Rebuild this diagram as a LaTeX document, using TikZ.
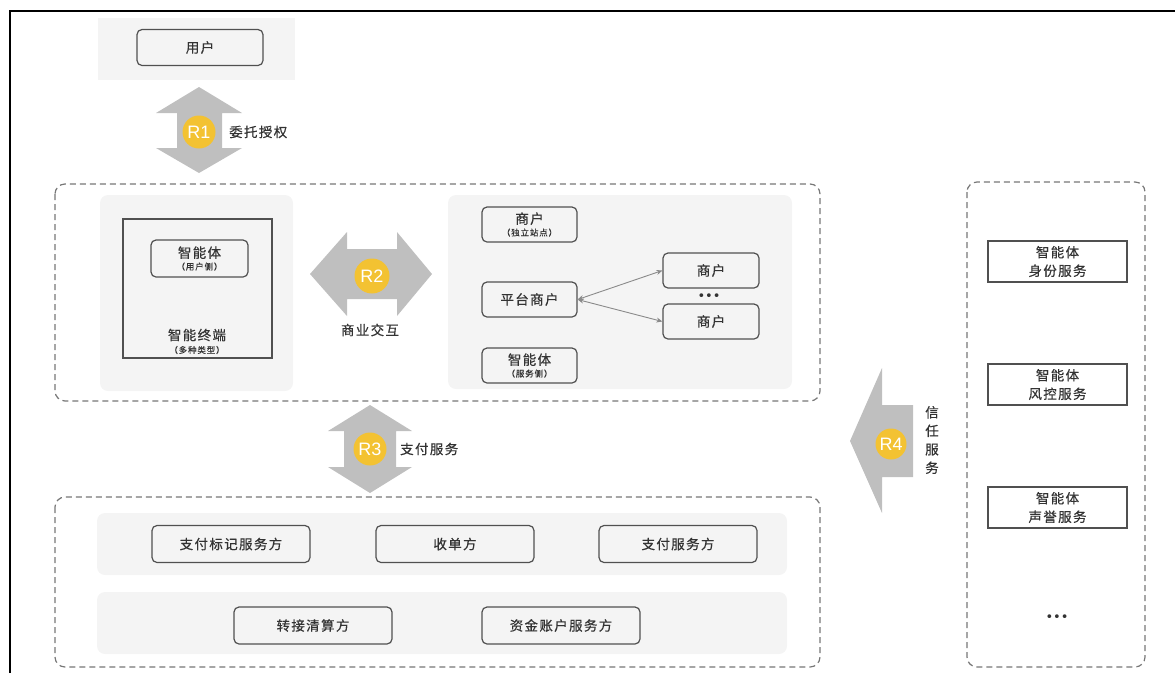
\documentclass[tikz,border=0pt]{standalone}
\usepackage{fontspec}
\setmainfont{Liberation Sans}
\newfontfamily\cjk[LetterSpace=10,FakeBold=0.5]{Noto Sans CJK SC}
\newfontfamily\dotsfont{DejaVu Sans}
\usetikzlibrary{arrows.meta}
\definecolor{panelgray}{HTML}{F4F4F4}
\definecolor{arrowgray}{HTML}{BFBFBF}
\definecolor{ryellow}{HTML}{F3C232}
\definecolor{boxline}{HTML}{505050}
\definecolor{dashgray}{HTML}{777777}
\definecolor{conngray}{HTML}{8A8A8A}
\definecolor{txt}{HTML}{333333}
\tikzset{
  box/.style={draw=boxline, line width=1.2pt, rounded corners=5pt, inner sep=0pt, align=center,
    text=txt, font=\cjk\fontsize{13.5}{15}\selectfont},
  sqbox/.style={draw=boxline, line width=1.3pt, inner sep=0pt, align=center,
    text=txt, font=\cjk\fontsize{13.5}{18.5}\selectfont},
  panelbg/.style={fill=panelgray, rounded corners=8pt},
  dashbox/.style={draw=dashgray, line width=1.2pt, dash pattern=on 6pt off 4pt, rounded corners=10pt},
  blockarrow/.style={fill=arrowgray},
  badge/.style={circle, fill=ryellow, text=white, minimum size=33pt, inner sep=0pt,
    font=\fontsize{18}{18}\selectfont},
  lbl/.style={inner sep=0pt, text=txt, font=\cjk\fontsize{13.5}{15}\selectfont, align=center},
  small/.style={font=\cjk\fontsize{8.5}{10}\selectfont},
  conn/.style={draw=conngray, line width=0.9pt, {Stealth[length=6pt,width=5pt]}-{Stealth[length=6pt,width=5pt]}},
  dotsnode/.style={inner sep=0pt, text=txt, font=\dotsfont\fontsize{13}{13}\selectfont}
}
\newcommand{\sm}[1]{{\fontsize{8.5}{10}\selectfont #1}}
\begin{document}
\begin{tikzpicture}[x=1pt,y=-1pt]
\useasboundingbox (0,0) rectangle (1175,673);
% outer frame
\draw[line width=2pt] (10,673) -- (10,11) -- (1175,11);

% user
\fill[panelbg, rounded corners=0pt] (98,18) rectangle (295,80);
\node[box, minimum width=126pt, minimum height=36pt] (user) at (200,47.5) {用户};

% R1
\fill[blockarrow] (199,87) -- (242,113) -- (222,113) -- (222,148) -- (242,148) -- (199,173)
  -- (156,148) -- (177,148) -- (177,113) -- (156,113) -- cycle;
\node[badge] (r1) at (199,132) {R1};
\node[lbl, anchor=west] (r1l) at (229,132) {委托授权};

% middle group
\draw[dashbox] (55,184) rectangle (820,401);
\fill[panelbg] (100,195) rectangle (293,391);
\node[sqbox, minimum width=149pt, minimum height=139pt] (terminal) at (197.5,288.5) {};
\node[box, minimum width=97pt, minimum height=37pt] (agentu) at (199.5,258.5)
  {智能体\\[-3pt]\sm{（用户侧）}};
\node[lbl] (termlbl) at (197,335) {智能终端};
\node[lbl, small] (termsub) at (197,350) {（多种类型）};

% R2
\fill[blockarrow] (310,274) -- (347,232) -- (347,249) -- (397,249) -- (397,232) -- (432,274)
  -- (397,316) -- (397,299) -- (347,299) -- (347,316) -- cycle;
\node[badge, minimum size=35pt] (r2) at (372,276) {R2};
\node[lbl] (r2l) at (370,330) {商业交互};

\fill[panelbg] (448,195) rectangle (792,389);
\node[box, minimum width=95pt, minimum height=35pt] (mind) at (529.5,224.5)
  {商户\\[-3pt]\sm{（独立站点）}};
\node[box, minimum width=95pt, minimum height=35pt] (plat) at (529.5,299.5) {平台商户};
\node[box, minimum width=95pt, minimum height=35pt] (agents) at (529.5,365.5)
  {智能体\\[-3pt]\sm{（服务侧）}};
\node[box, minimum width=96pt, minimum height=35pt] (ma) at (711,270.5) {商户};
\node[box, minimum width=96pt, minimum height=35pt] (mb) at (711,321.5) {商户};
\node[dotsnode] (mdots) at (709,297) {•••};
\draw[conn] (plat.east) -- (ma.west);
\draw[conn] (plat.east) -- (mb.west);

% R3
\fill[blockarrow] (370,405) -- (412,431) -- (396,431) -- (396,467) -- (412,467) -- (370,493)
  -- (328,467) -- (344,467) -- (344,431) -- (328,431) -- cycle;
\node[badge] (r3) at (370,449) {R3};
\node[lbl, anchor=west] (r3l) at (400,449) {支付服务};

% bottom group
\draw[dashbox] (55,497) rectangle (820,667);
\fill[panelbg] (97,513) rectangle (787,575);
\fill[panelbg] (97,592) rectangle (787,654);
\node[box, minimum width=158pt, minimum height=37pt] (p1) at (231,544) {支付标记服务方};
\node[box, minimum width=158pt, minimum height=37pt] (p2) at (455,544) {收单方};
\node[box, minimum width=158pt, minimum height=37pt] (p3) at (678,544) {支付服务方};
\node[box, minimum width=158pt, minimum height=37pt] (p4) at (313,625.5) {转接清算方};
\node[box, minimum width=158pt, minimum height=37pt] (p5) at (561,625.5) {资金账户服务方};

% R4
\fill[blockarrow] (850,441) -- (882,368) -- (882,405) -- (913,405) -- (913,477) -- (882,477)
  -- (882,513) -- cycle;
\node[badge, minimum size=31pt] (r4) at (891,444) {R4};
\node[lbl, font=\cjk\fontsize{13.5}{18.5}\selectfont] (r4l) at (932,440) {信\\任\\服\\务};

% right group
\draw[dashbox] (967,182) rectangle (1145,667);
\node[sqbox, minimum width=139pt, minimum height=41pt] (s1) at (1057.5,261.5) {智能体\\身份服务};
\node[sqbox, minimum width=139pt, minimum height=41pt] (s2) at (1057.5,384.5) {智能体\\风控服务};
\node[sqbox, minimum width=139pt, minimum height=41pt] (s3) at (1057.5,507.5) {智能体\\声誉服务};
\node[dotsnode] (sdots) at (1057,618) {•••};
\end{tikzpicture}
\end{document}
